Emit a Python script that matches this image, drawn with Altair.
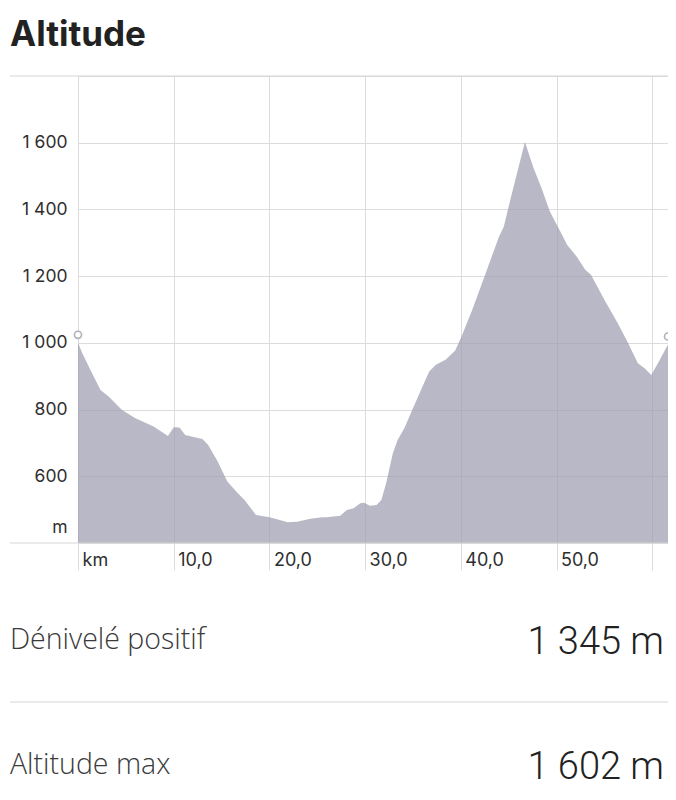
import altair as alt
import pandas as pd

# ---- data ----
km = [0.0, 0.45, 1.3, 2.35, 3.2, 4.6, 6.0, 7.9, 9.4, 10.0, 10.6, 11.2, 12.2, 13.0,
      13.6, 14.6, 15.6, 16.7, 17.4, 18.6, 20.0, 20.8, 21.9, 22.9, 24.3, 25.5, 26.0,
      27.4, 28.1, 28.8, 29.5, 29.9, 30.5, 31.2, 31.7, 32.2, 32.9, 33.4, 34.1, 35.0,
      36.0, 36.7, 37.4, 38.4, 39.4, 40.0, 41.2, 42.6, 44.0, 44.5, 45.0, 45.7, 46.7,
      47.6, 48.5, 49.3, 50.4, 51.1, 52.1, 53.0, 53.6, 55.0, 56.4, 57.4, 58.5, 59.2,
      59.9, 60.6, 61.65]
altitude = [1000, 969, 919, 859, 839, 799, 774, 749, 721, 747, 746, 724, 717, 712,
            694, 644, 584, 549, 529, 484, 477, 471, 462, 464, 473, 477, 477,
            482, 499, 504, 519, 521, 512, 514, 529, 579, 669, 709, 744, 804,
            869, 914, 934, 949, 976, 1014, 1099, 1209, 1319, 1349, 1409, 1489, 1602,
            1524, 1459, 1394, 1334, 1294, 1259, 1219, 1204, 1129, 1059, 1004, 939, 924,
            904, 939, 995]

x_ticks = [0, 10, 20, 30, 40, 50, 60, 61.65]
y_ticks = [400, 600, 800, 1000, 1200, 1400, 1600]
x_domain = [0, 61.65]
y_domain = [400, 1800]

chart_title = "Altitude"
stat_labels = ["Dénivelé positif", "Altitude max"]
stat_values = ["1 345 m", "1 602 m"]

df = pd.DataFrame({"km": km, "alt": altitude})
ends = df.iloc[[0, -1]]

W, H = 590, 467
LEFT = -68  # page x = 10
GRID = "#dcdcdc"
LINE = "#d6d6d6"
LABEL = "#2e2e2e"

x_enc = alt.X(
    "km:Q",
    scale=alt.Scale(domain=x_domain, nice=False, zero=False),
    axis=alt.Axis(
        values=x_ticks, title=None, domain=False,
        grid=True, gridColor=GRID, gridWidth=1,
        ticks=True, tickSize=27, tickColor=GRID, tickWidth=1,
        labelExpr="datum.value == 0 ? 'km' : (datum.value > 55 ? '' : replace(format(datum.value, '.1f'), '.', ','))",
        labelAlign="left", labelBaseline="middle", labelPadding=-10, labelOffset=4,
        labelFont="Inter", labelFontSize=18, labelColor=LABEL,
        labelOverlap=False, labelBound=False, labelFlush=False,
    ),
)
y_enc = alt.Y(
    "alt:Q",
    scale=alt.Scale(domain=y_domain, nice=False, zero=False),
    axis=alt.Axis(
        values=y_ticks, title=None, domain=False, ticks=False,
        grid=True, gridColor=GRID, gridWidth=1,
        labelExpr="datum.value == 400 ? 'm' : replace(format(datum.value, ','), ',', ' ')",
        labelAlign="right", labelBaseline="middle", labelPadding=11,
        labelOffset={"condition": {"test": "datum.value == 400", "value": -16}, "value": 0},
        labelFont="Inter", labelFontSize=17.5, labelColor=LABEL,
        labelOverlap=False, labelBound=False, labelFlush=False,
    ),
)

area = alt.Chart(df).mark_area(
    color="#9a9aae", opacity=0.7, line=False, interpolate="linear", clip=True
).encode(x=x_enc, y=y_enc)

points = alt.Chart(ends).mark_circle(
    size=50, fill="white", fillOpacity=1, stroke="#b0b0bc", strokeWidth=1.6, opacity=1, yOffset=-8
).encode(x="km:Q", y="alt:Q")

def hline(ypix):
    return alt.Chart().mark_rule(color=LINE, strokeWidth=1).encode(
        x=alt.value(LEFT), x2=alt.value(W), y=alt.value(ypix)
    )

top_line = hline(0)
bottom_line = hline(H)
sep_line = hline(626)

title_txt = alt.Chart().mark_text(
    align="left", baseline="alphabetic", font="Inter", fontSize=35, fontWeight="bold", color="#222222"
).encode(text=alt.value(chart_title), x=alt.value(LEFT), y=alt.value(-30))

stat_layers = []
for i, (lab, val) in enumerate(zip(stat_labels, stat_values)):
    base_y = 573 + i * 125
    stat_layers.append(
        alt.Chart().mark_text(
            align="left", baseline="alphabetic", font="Open Sans", fontSize=28.5, fontWeight=300, color="#3a3a3a"
        ).encode(text=alt.value(lab), x=alt.value(LEFT), y=alt.value(base_y))
    )
    stat_layers.append(
        alt.Chart().mark_text(
            align="right", baseline="alphabetic", font="Roboto", fontSize=38, fontWeight=300, color="#222222"
        ).encode(text=alt.value(val), x=alt.value(586), y=alt.value(base_y + 5))
    )

chart = alt.layer(
    area, top_line, bottom_line, sep_line, points, title_txt, *stat_layers
).properties(
    width=W, height=H,
    autosize=alt.AutoSizeParams(type="none"),
    padding={"left": 70, "top": 68, "right": 0, "bottom": 249},
).configure_view(stroke=None).configure(background="white")

chart.save("out.html", embed_options={"renderer": "svg", "actions": False})
